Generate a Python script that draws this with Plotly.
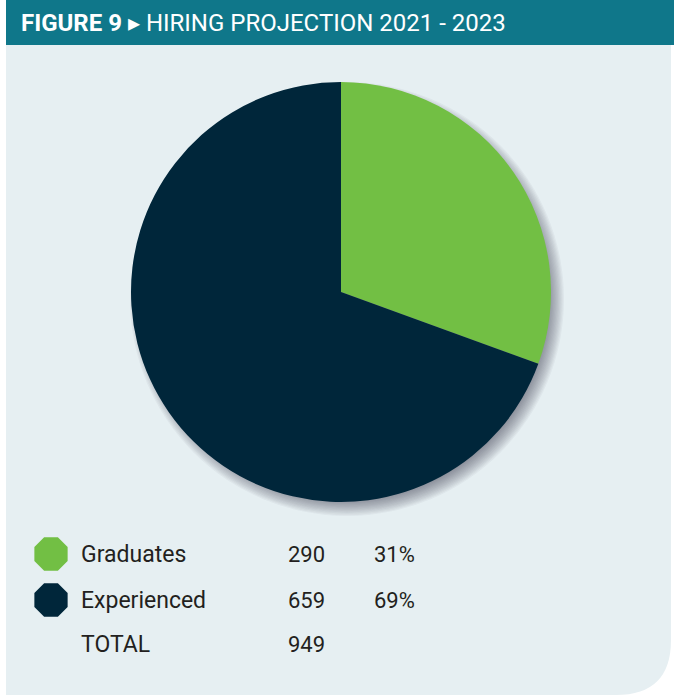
import plotly.graph_objects as go

# Hiring projection 2021 - 2023
categories = ["Graduates", "Experienced"]
hires = [290, 659]
colors = ["#72bf44", "#00263a"]
title_bold = "FIGURE 9"
title_rest = "HIRING PROJECTION 2021 - 2023"

W, H = 674, 697
total = sum(hires)
shares = [round(v / total * 100) for v in hires]

FONT = "Roboto"
TEXT = "#231f20"
PANEL = "#e6eff2"
HEADER = "#0f778a"

# pie geometry in pixels
cx, cy, r = 341, 292, 210

fig = go.Figure()

fig.add_trace(go.Pie(
    labels=categories, values=hires, sort=False, direction="clockwise",
    rotation=0, marker=dict(colors=colors, line=dict(width=0)),
    textinfo="none", hoverinfo="label+value+percent", showlegend=False,
    domain=dict(x=[(cx - r) / W, (cx + r) / W], y=[1 - (cy + r) / H, 1 - (cy - r) / H]),
))

# legend table: octagon markers, labels, counts, shares
row_y = [554, 600]
fig.add_trace(go.Scatter(
    x=[51] * len(categories), y=row_y, mode="markers",
    marker=dict(symbol="octagon", size=36, color=colors, line=dict(width=0)),
    hoverinfo="skip", showlegend=False,
))

annotations = []
def txt(x, y, s, size=23, color=TEXT, xanchor="left"):
    annotations.append(dict(x=x, y=y, xref="x", yref="y", text=s, showarrow=False,
                            xanchor=xanchor, yanchor="middle",
                            font=dict(family=FONT, size=size, color=color)))

for cat, v, p, y in zip(categories, hires, shares, row_y):
    txt(79, y, cat)
    txt(286, y, str(v), size=22)
    txt(372, y, f"{p}%", size=22)
txt(79, 644, "TOTAL")
txt(286, 644, str(total), size=22)

# header title
annotations.append(dict(x=19, y=23, xref="x", yref="y", showarrow=False,
                        xanchor="left", yanchor="middle",
                        text=f"<b>{title_bold}</b> \u25B8 {title_rest}",
                        font=dict(family=FONT, size=24, color="white")))

shapes = []
# panel with rounded lower-right corner
rc = 55
x0, x1, y0, y1 = 6, 671, 0, 695
shapes.append(dict(type="path", xref="x", yref="y", layer="below", line=dict(width=0),
                   fillcolor=PANEL,
                   path=f"M{x0},{y0} L{x1},{y0} L{x1},{y1 - rc} Q{x1},{y1} {x1 - rc},{y1} L{x0},{y1} Z"))
# header bar
shapes.append(dict(type="rect", xref="x", yref="y", layer="below", line=dict(width=0),
                   fillcolor=HEADER, x0=6, x1=W, y0=0, y1=45))
# soft drop shadow behind the pie, offset to the lower right
sx, sy = cx + 6, cy + 7
for i in range(14):
    rr = r + 7 - i * 1.2
    shapes.append(dict(type="circle", xref="x", yref="y", layer="below", line=dict(width=0),
                       fillcolor="rgba(40,50,60,0.045)",
                       x0=sx - rr, x1=sx + rr, y0=sy - rr, y1=sy + rr))

fig.update_layout(
    width=W, height=H, margin=dict(l=0, r=0, t=0, b=0),
    paper_bgcolor="white", plot_bgcolor="rgba(0,0,0,0)",
    xaxis=dict(range=[0, W], visible=False, fixedrange=True),
    yaxis=dict(range=[H, 0], visible=False, fixedrange=True),
    shapes=shapes, annotations=annotations, showlegend=False,
)

fig.write_html("out.html")
